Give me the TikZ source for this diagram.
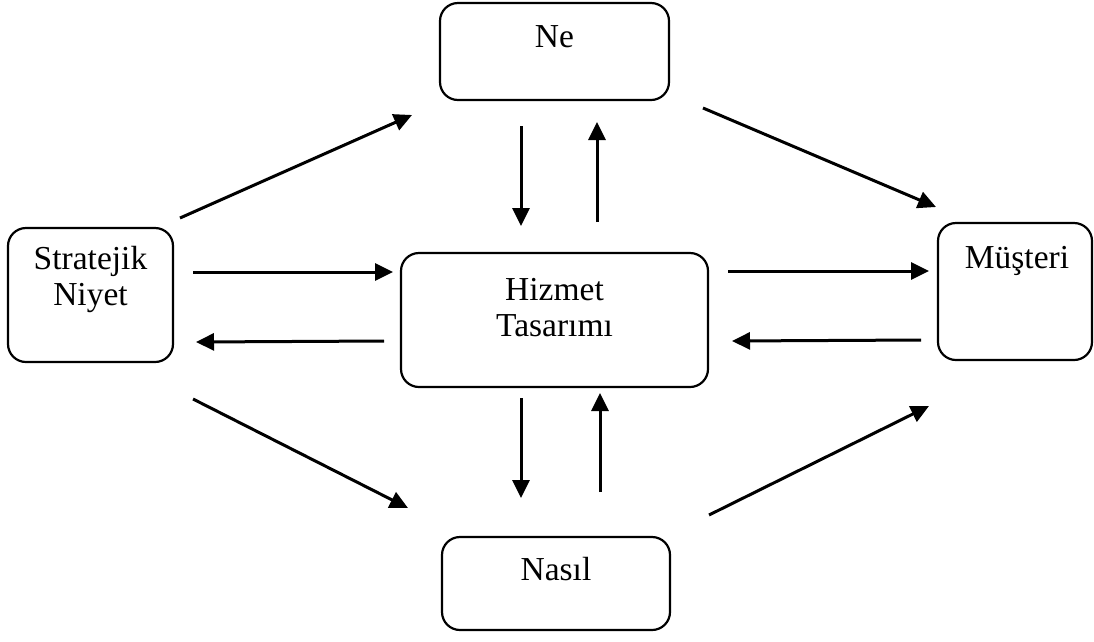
\documentclass[tikz,border=0pt]{standalone}
\usepackage{fontspec}
\setmainfont{Liberation Serif}
\usetikzlibrary{arrows.meta}
\begin{document}
\begin{tikzpicture}[x=1pt,y=-1pt,
  box/.style={draw, line width=2.2pt, rounded corners=18pt, inner sep=0pt},
  lbl/.style={anchor=north, inner sep=0pt, align=center,
    font=\fontsize{33.5}{36}\selectfont},
  flow/.style={line width=3pt, -{Triangle[length=18pt,width=17pt]}}]
\useasboundingbox (0,0) rectangle (1094,641);

% boxes
\node[box, minimum width=229pt, minimum height=97pt]  (ne)      at (554.5,51.5) {};
\node[box, minimum width=165pt, minimum height=134pt] (niyet)   at (90.5,295)   {};
\node[box, minimum width=307pt, minimum height=134pt] (hizmet)  at (554.5,320)  {};
\node[box, minimum width=154pt, minimum height=137pt] (musteri) at (1015,291.5) {};
\node[box, minimum width=228pt, minimum height=93pt]  (nasil)   at (556,583.5)  {};

% labels
\node[lbl] (ne-t)      at (554.5,25)  {Ne};
\node[lbl] (niyet-t)   at (90.5,246)  {Stratejik\\Niyet};
\node[lbl] (hizmet-t)  at (554.5,278) {Hizmet\\Tasarımı};
\node[lbl] (musteri-t) at (1017,246)  {Müşteri};
\node[lbl] (nasil-t)   at (556,557)   {Nasıl};

% arrow end points
\coordinate (a1s) at (180,218);  \coordinate (a1e) at (412,115);
\coordinate (a2s) at (521,126);  \coordinate (a2e) at (521,226);
\coordinate (a3s) at (597,222);  \coordinate (a3e) at (597,122);
\coordinate (a4s) at (703,108);  \coordinate (a4e) at (936,207);
\coordinate (a5s) at (193,272);  \coordinate (a5e) at (393,272);
\coordinate (a6s) at (384,341);  \coordinate (a6e) at (196,342);
\coordinate (a7s) at (728,271);  \coordinate (a7e) at (929,271);
\coordinate (a8s) at (921,340);  \coordinate (a8e) at (732,341);
\coordinate (a9s) at (193,399);  \coordinate (a9e) at (408,508);
\coordinate (a10s) at (521,398); \coordinate (a10e) at (521,498);
\coordinate (a11s) at (600,492); \coordinate (a11e) at (600,393);
\coordinate (a12s) at (709,515); \coordinate (a12e) at (929,406);

% arrows
\foreach \i in {1,...,12}
  \draw[flow] (a\i s) -- (a\i e);
\end{tikzpicture}
\end{document}
